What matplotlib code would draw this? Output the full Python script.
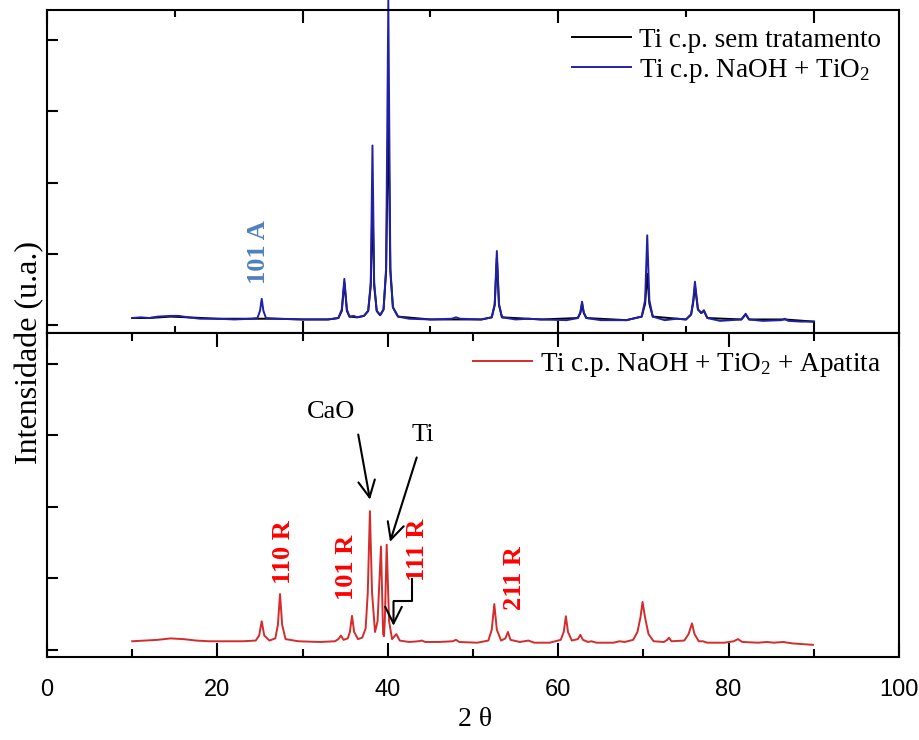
import matplotlib
matplotlib.use("Agg")
import matplotlib.pyplot as plt
from matplotlib.ticker import MultipleLocator

plt.rcParams['mathtext.fontset'] = 'custom'
plt.rcParams['mathtext.rm'] = 'Liberation Serif'
plt.rcParams['mathtext.it'] = 'Liberation Serif:italic'

SERIF = 'Liberation Serif'
SANS = 'Liberation Sans'

# ---------------- data ----------------
# Top panel: Ti c.p. NaOH + TiO2 (blue)
top_blue_x = [10.0, 11.0, 12.0, 13.0, 14.5, 15.5, 16.5, 18.0, 20.0, 22.0, 24.0, 24.7, 25.0, 25.2, 25.4, 25.7,
              27.0, 30.0, 33.0, 34.2, 34.6, 34.9, 35.2, 35.5, 36.0, 36.4, 37.2, 37.7, 38.0, 38.2, 38.4,
              38.7, 39.1, 39.5, 39.8, 40.06, 40.3, 40.6, 41.2, 42.5, 45.0, 47.5, 48.0, 48.5, 51.0, 52.2,
              52.55, 52.8, 53.05, 53.4, 55.0, 56.5, 58.0, 61.0, 62.3, 62.6, 62.8, 63.0, 63.3, 65.0, 68.0,
              69.8, 70.2, 70.45, 70.7, 71.1, 72.5, 73.9, 75.0, 75.6, 75.85, 76.05, 76.4, 76.8, 77.1, 77.5,
              79.0, 81.5, 82.0, 82.4, 84.0, 86.2, 86.6, 87.0, 88.5, 90.0]
top_blue_y = [0.10, 0.11, 0.10, 0.12, 0.13, 0.13, 0.11, 0.09, 0.09, 0.08, 0.09, 0.10, 0.20, 0.37, 0.20, 0.10,
              0.09, 0.08, 0.08, 0.10, 0.22, 0.65, 0.22, 0.12, 0.13, 0.11, 0.13, 0.20, 0.60, 2.52, 0.60,
              0.20, 0.14, 0.22, 0.80, 4.56, 0.80, 0.25, 0.12, 0.09, 0.08, 0.09, 0.11, 0.09, 0.08, 0.11,
              0.30, 1.04, 0.30, 0.11, 0.08, 0.09, 0.08, 0.07, 0.10, 0.18, 0.33, 0.18, 0.10, 0.07, 0.07,
              0.12, 0.35, 1.26, 0.35, 0.12, 0.07, 0.09, 0.08, 0.15, 0.35, 0.61, 0.22, 0.17, 0.21, 0.10,
              0.06, 0.08, 0.16, 0.08, 0.06, 0.07, 0.09, 0.06, 0.05, 0.05]

# Top panel: Ti c.p. sem tratamento (black, mostly hidden under the blue trace)
top_black_x = [10.0, 12.0, 14.5, 16.5, 20.0, 24.0, 27.0, 30.0, 33.0, 34.2, 34.6, 34.9, 35.2, 35.5, 36.4,
               37.2, 37.7, 38.0, 38.2, 38.4, 38.7, 39.1, 39.5, 39.8, 40.06, 40.3, 40.6, 41.2, 45.0, 51.0,
               52.2, 52.55, 52.8, 53.05, 53.4, 58.0, 62.3, 62.6, 62.8, 63.0, 63.3, 68.0, 69.8, 70.2, 70.45,
               70.7, 71.1, 75.0, 75.6, 75.85, 76.05, 76.4, 76.8, 77.1, 77.5, 81.5, 82.0, 82.4, 86.6, 90.0]
top_black_y = [0.10, 0.10, 0.12, 0.11, 0.09, 0.09, 0.09, 0.08, 0.08, 0.10, 0.20, 0.60, 0.20, 0.12, 0.11,
               0.13, 0.20, 0.55, 1.75, 0.55, 0.20, 0.14, 0.22, 0.75, 3.00, 0.75, 0.25, 0.12, 0.08, 0.08,
               0.11, 0.28, 0.95, 0.28, 0.11, 0.08, 0.10, 0.17, 0.30, 0.17, 0.10, 0.07, 0.12, 0.30, 0.72,
               0.30, 0.12, 0.08, 0.15, 0.32, 0.55, 0.22, 0.17, 0.20, 0.10, 0.08, 0.15, 0.08, 0.08, 0.05]

# Bottom panel: Ti c.p. NaOH + TiO2 + Apatita (red)
bot_red_x = [10.0, 11.5, 13.0, 14.5, 16.0, 17.5, 19.0, 21.0, 23.0, 24.5, 24.9, 25.2, 25.5, 26.1, 26.8, 27.1,
             27.35, 27.6, 28.0, 29.5, 32.0, 33.8, 34.2, 34.5, 34.8, 35.3, 35.55, 35.8, 36.05, 36.5, 37.0,
             37.4, 37.65, 37.9, 38.15, 38.5, 38.8, 39.2, 39.45, 39.55, 39.65, 39.87, 40.15, 40.5, 41.0,
             41.4, 42.5, 43.6, 44.0, 44.4, 46.0, 47.6, 48.0, 48.4, 50.5, 51.8, 52.2, 52.5, 52.8, 53.3,
             53.8, 54.1, 54.4, 55.5, 56.5, 57.2, 59.0, 60.3, 60.65, 60.9, 61.15, 61.6, 62.3, 62.6, 62.9,
             63.5, 63.9, 64.5, 66.5, 67.2, 67.8, 68.8, 69.3, 69.65, 69.9, 70.2, 70.6, 71.2, 72.4, 72.8,
             73.0, 73.3, 74.8, 75.3, 75.7, 76.0, 76.5, 77.0, 77.5, 79.5, 80.6, 81.1, 81.6, 83.5, 84.5,
             85.3, 86.4, 87.5, 89.9]
bot_red_y = [0.12, 0.13, 0.14, 0.16, 0.15, 0.13, 0.12, 0.12, 0.12, 0.13, 0.20, 0.40, 0.20, 0.13, 0.16, 0.35,
             0.78, 0.35, 0.15, 0.12, 0.11, 0.12, 0.15, 0.20, 0.14, 0.16, 0.25, 0.475, 0.25, 0.15, 0.17,
             0.30, 0.80, 1.94, 0.80, 0.25, 0.40, 1.445, 0.22, 0.19, 0.40, 1.47, 0.40, 0.15, 0.22,
             0.13, 0.11, 0.12, 0.13, 0.11, 0.11, 0.12, 0.14, 0.11, 0.10, 0.13, 0.28, 0.64, 0.28, 0.13,
             0.16, 0.25, 0.14, 0.11, 0.13, 0.10, 0.10, 0.14, 0.25, 0.47, 0.25, 0.13, 0.15, 0.21, 0.14,
             0.11, 0.12, 0.10, 0.10, 0.12, 0.11, 0.14, 0.25, 0.45, 0.67, 0.45, 0.22, 0.12, 0.11, 0.14,
             0.17, 0.12, 0.13, 0.22, 0.37, 0.22, 0.12, 0.12, 0.10, 0.10, 0.12, 0.15, 0.11, 0.10, 0.11,
             0.10, 0.11, 0.09, 0.07]

legend_top = ['Ti c.p. sem tratamento', 'Ti c.p. NaOH + TiO$_\\mathregular{2}$']
legend_bot = ['Ti c.p. NaOH + TiO$_\\mathregular{2}$ + Apatita']

# peak labels: text, x, y (panel units)
red_labels = [('110 R', 27.7, 1.37), ('101 R', 35.2, 1.16), ('111 R', 43.5, 1.40), ('211 R', 54.9, 1.00)]
blue_label = ('101 A', 24.85, 1.02)

x_ticks = [0, 20, 40, 60, 80, 100]

# ---------------- figure ----------------
fig = plt.figure(figsize=(9.2, 7.4), dpi=100)
L, R = 47 / 920, 899 / 920
y_top, y_mid, y_bot = 1 - 10 / 740, 1 - 333 / 740, 1 - 657 / 740
ax1 = fig.add_axes([L, y_mid, R - L, y_top - y_mid])
ax2 = fig.add_axes([L, y_bot, R - L, y_mid - y_bot])

BLUE = '#2121a8'
RED = '#d42c2c'

ax1.plot(top_black_x, top_black_y, color='black', lw=1.4, label=legend_top[0])
ax1.plot(top_blue_x, top_blue_y, color=BLUE, lw=1.4, label=legend_top[1], clip_on=False)
ax2.plot(bot_red_x, bot_red_y, color=RED, lw=1.4, label=legend_bot[0])

ax1.set_xlim(0, 100)
ax2.set_xlim(0, 100)
ax1.set_ylim(-0.11, 4.42)
ax2.set_ylim(-0.10, 4.43)

for ax in (ax1, ax2):
    for s in ax.spines.values():
        s.set_linewidth(1.5)
    ax.yaxis.set_major_locator(MultipleLocator(1))
    ax.tick_params(axis='y', which='major', direction='in', length=8, width=1.5,
                   left=True, right=False, labelleft=False)
    ax.tick_params(axis='x', which='both', direction='in', width=1.5, top=True, bottom=True)

ax1.xaxis.set_major_locator(MultipleLocator(30))
ax1.xaxis.set_minor_locator(MultipleLocator(15))
ax1.tick_params(axis='x', which='major', length=9, labelbottom=False)
ax1.tick_params(axis='x', which='minor', length=5)

ax2.set_xticks(x_ticks)
ax2.xaxis.set_minor_locator(MultipleLocator(10))
ax2.tick_params(axis='x', which='major', length=10, labelsize=17, pad=16)
ax2.tick_params(axis='x', which='minor', length=6)
for t in ax2.get_xticklabels():
    t.set_fontfamily(SANS)

ax1.legend(loc='upper right', frameon=False, handlelength=2.2,
           handletextpad=0.3, labelspacing=0.15, borderaxespad=0.25,
           prop={'family': SERIF, 'size': 19.5})
ax2.legend(loc='upper right', frameon=False, handlelength=2.2,
           handletextpad=0.3, borderaxespad=0.25, prop={'family': SERIF, 'size': 19.5})

# labels
for txt, x, y in red_labels:
    ax2.text(x, y, txt, color='#ff0000', rotation=90, ha='center', va='center',
             fontsize=19, fontweight='bold', family=SERIF)
ax1.text(blue_label[1], blue_label[2], blue_label[0], color='#4f81bd', rotation=90,
         ha='center', va='center', fontsize=19, fontweight='bold', family=SERIF)

ax2.text(33.3, 3.33, 'CaO', fontsize=19, family=SERIF, ha='center', va='center')
ax2.text(44.07, 3.0, 'Ti', fontsize=19, family=SERIF, ha='center', va='center')

arrow_kw = dict(arrowstyle='->,head_length=0.6,head_width=0.3', lw=1.5, color='black',
                shrinkA=0, shrinkB=0, mutation_scale=20)
ax2.annotate('', xy=(37.91, 2.10), xytext=(36.53, 3.01), arrowprops=arrow_kw)
ax2.annotate('', xy=(40.26, 1.51), xytext=(43.39, 2.69), arrowprops=arrow_kw)
ax2.plot([42.8, 42.8, 40.67], [0.993, 0.676, 0.676], color='black', lw=1.5)
ax2.annotate('', xy=(40.67, 0.336), xytext=(40.67, 0.676), arrowprops=arrow_kw)

fig.text(30 / 920, 1 - 352 / 740, 'Intensidade (u.a.)', rotation=90, ha='center', va='center',
         fontsize=23, family=SERIF)
fig.text(475 / 920, 1 - 720 / 740, '2 θ', ha='center', va='center', fontsize=20, family=SERIF)

fig.savefig('out.png', dpi=100)
